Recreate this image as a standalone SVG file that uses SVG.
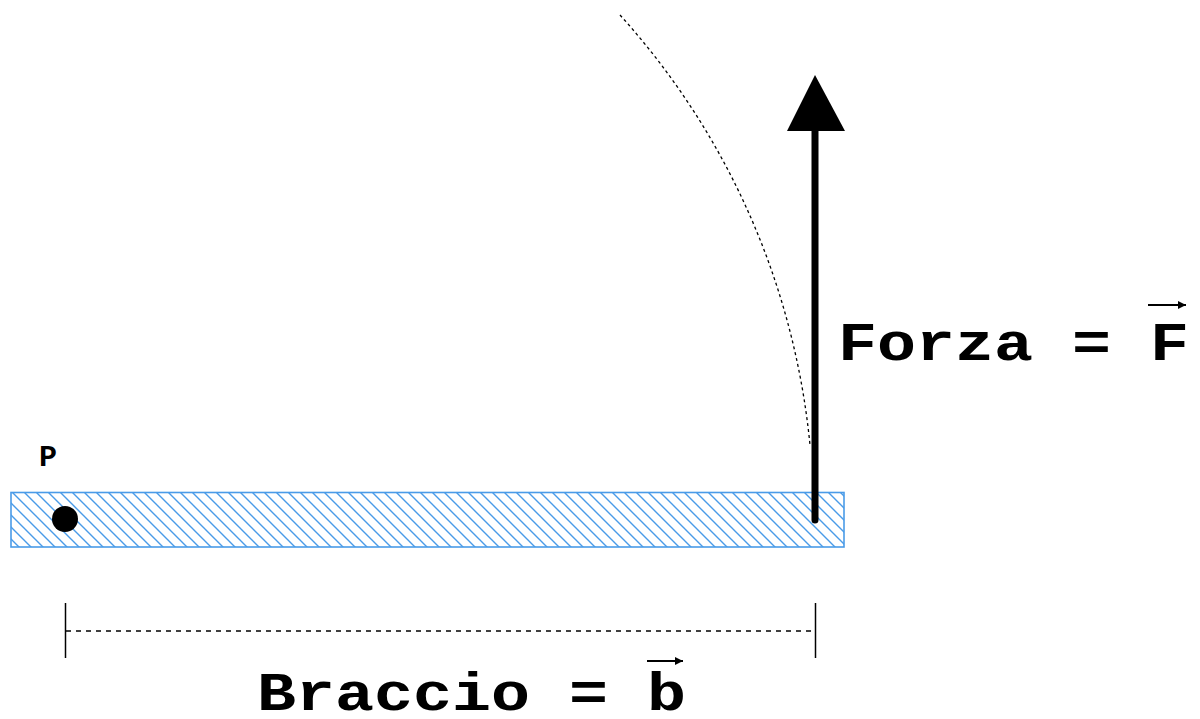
<svg xmlns="http://www.w3.org/2000/svg" width="1200" height="719" viewBox="0 0 1200 719">
<style>
.lbl{font-family:"Liberation Mono","Courier New",monospace;font-weight:bold;fill:#000}
.dash{fill:none;stroke:#000;stroke-width:1.3}
</style>
<defs>
<pattern id="hatch" patternUnits="userSpaceOnUse" width="12" height="12">
<path d="M0,0 L12,12 M-6,6 L6,18 M6,-6 L18,6" stroke="#4a9be8" stroke-width="1.4"/>
</pattern>
<marker id="vec" viewBox="0 0 10 10" refX="10" refY="5" markerWidth="4" markerHeight="4" orient="auto" markerUnits="strokeWidth">
<path d="M0,0 L10,5 L0,10 Z" fill="#000"/>
</marker>
</defs>
<rect width="1200" height="719" fill="#fff"/>
<g id="bar">
<rect x="11" y="492.5" width="833" height="54.5" fill="url(#hatch)" stroke="#4a9be8" stroke-width="1.6"/>
</g>
<g id="pivot">
<circle cx="65" cy="519" r="13" fill="#000"/>
<text class="lbl" x="39" y="466" font-size="30">P</text>
</g>
<g id="connectors">
<path class="dash" d="M620,15 A750,750 0 0 1 810,445" stroke-dasharray="3,3"/>
<line x1="815" y1="520" x2="815" y2="128" stroke="#000" stroke-width="7" stroke-linecap="round"/>
<polygon points="815,75 787,131 845,131" fill="#000"/>
<line x1="65.5" y1="603" x2="65.5" y2="658" stroke="#000" stroke-width="1.5"/>
<line x1="815.5" y1="603" x2="815.5" y2="658" stroke="#000" stroke-width="1.5"/>
<line class="dash" x1="66" y1="631" x2="815" y2="631" stroke-dasharray="5,5"/>
</g>
<g id="forza">
<text class="lbl" x="838" y="360" font-size="54" textLength="351" lengthAdjust="spacingAndGlyphs">Forza = F</text>
<line x1="1148" y1="305" x2="1186" y2="305" stroke="#000" stroke-width="2" marker-end="url(#vec)"/>
</g>
<g id="braccio">
<text class="lbl" x="257" y="710" font-size="54" textLength="429" lengthAdjust="spacingAndGlyphs">Braccio = b</text>
<line x1="647" y1="661" x2="683" y2="661" stroke="#000" stroke-width="2" marker-end="url(#vec)"/>
</g>
</svg>
